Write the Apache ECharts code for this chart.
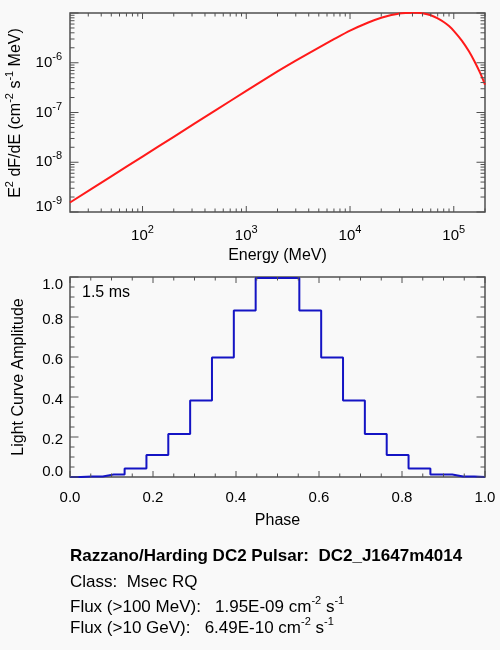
<!DOCTYPE html>
<html><head><meta charset="utf-8">
<script src="https://cdn.jsdelivr.net/npm/echarts@6/dist/echarts.min.js"></script>
<style>html,body{margin:0;padding:0;background:#f9f9f9}#c{width:500px;height:650px}</style>
</head><body><div id="c"></div>
<script>
// ---- Spectrum (top panel) ----
const energies = [20,50,100,200,500,1000,2000,3000,5000,7000,1e4,1.5e4,2e4,2.5e4,3e4,3.5e4,4e4,4.5e4,5e4,6e4,7e4,8e4,9e4,1e5,1.2e5,1.4e5,1.6e5,1.8e5,2e5];
const e2dnde = [1.552e-9,5.21e-9,1.300e-8,3.25e-8,1.091e-7,2.716e-7,6.68e-7,1.104e-6,2.023e-6,2.979e-6,4.426e-6,6.457e-6,8.04e-6,9.12e-6,9.82e-6,1.005e-5,1.016e-5,1.007e-5,9.86e-6,8.99e-6,7.76e-6,6.58e-6,5.45e-6,4.365e-6,2.754e-6,1.698e-6,1.023e-6,6.17e-7,3.63e-7];
const energyRange = [20, 2e5];
const fluxRange = [1e-9, 1e-5];
const energyMajorTicks = [100,1000,10000,100000];
const energyMinorTicks = [30,40,50,60,70,80,90,200,300,400,500,600,700,800,900,2000,3000,4000,5000,6000,7000,8000,9000,2e4,3e4,4e4,5e4,6e4,7e4,8e4,9e4,2e5];
const fluxMajorTicks = [1e-9,1e-8,1e-7,1e-6,1e-5];
const fluxMinorTicks = [2e-9,3e-9,4e-9,5e-9,6e-9,7e-9,8e-9,9e-9,2e-8,3e-8,4e-8,5e-8,6e-8,7e-8,8e-8,9e-8,2e-7,3e-7,4e-7,5e-7,6e-7,7e-7,8e-7,9e-7,2e-6,3e-6,4e-6,5e-6,6e-6,7e-6,8e-6,9e-6];
const energyLabelExps = [2,3,4,5];
const fluxLabelExps = [-6,-7,-8,-9];

// ---- Light curve (bottom panel) ----
const phases = [0,0.0526,0.1053,0.1579,0.2105,0.2632,0.3158,0.3684,0.4211,0.4737,0.5263,0.5789,0.6316,0.6842,0.7368,0.7895,0.8421,0.8947,0.9474,1.0];
const amplitudes = [0.0,0.003,0.012,0.043,0.11,0.215,0.382,0.598,0.833,0.995,0.995,0.833,0.598,0.382,0.215,0.11,0.043,0.012,0.003,0.0];
const phaseRange = [0, 1];
const ampRange = [0, 1];
const phaseTickLabels = ['0.0','0.2','0.4','0.6','0.8','1.0'];
const ampTickLabels = ['0.0','0.2','0.4','0.6','0.8','1.0'];
const linMajorTicks = [0,0.2,0.4,0.6,0.8,1.0];
const linMinorTicks = [0.05,0.1,0.15,0.25,0.3,0.35,0.45,0.5,0.55,0.65,0.7,0.75,0.85,0.9,0.95];

const FONT = "'Liberation Sans', Arial, Helvetica, sans-serif";
const AX = '#505050';
const chart = echarts.init(document.getElementById('c'), null, {renderer:'canvas'});

const supRich = {
  b: {fontSize: 15, fontFamily: FONT, color: '#000'},
  s: {fontSize: 11, fontFamily: FONT, color: '#000', padding: [0,0,12,0]},
  bl: {fontSize: 15, fontFamily: FONT, color: '#000', padding: [0,0,10,0]},
  sl: {fontSize: 11, fontFamily: FONT, color: '#000', padding: [0,0,22,0]}
};

function logAxis(dim, grid, range, exps, margin) {
  return {
    type: 'log', logBase: 10, gridIndex: grid, min: range[0], max: range[1],
    position: dim === 'x' ? 'bottom' : 'left',
    axisLine: {show: false, onZero: false}, axisTick: {show: false},
    splitLine: {show: false}, minorTick: {show: false},
    axisLabel: {
      show: true, margin: margin, rich: supRich,
      formatter: function (v) {
        const l = Math.log10(v), e = Math.round(l);
        if (Math.abs(l - e) > 1e-6 || exps.indexOf(e) < 0) return '';
        if (dim === 'y' && e === -9) return '{bl|10}{sl|' + e + '}';
        return '{b|10}{s|' + e + '}';
      }
    }
  };
}
function linAxis(dim, grid, range, labels, margin) {
  const isY = dim === 'y';
  return {
    type: 'value', gridIndex: grid, min: range[0], max: range[1], interval: 0.2,
    position: isY ? 'left' : 'bottom',
    axisLine: {show: false, onZero: false}, axisTick: {show: false},
    splitLine: {show: false}, minorTick: {show: false},
    axisLabel: {
      show: true, margin: margin, fontSize: 15, fontFamily: FONT, color: '#000',
      rich: {
        n: {fontSize: 15, fontFamily: FONT, color: '#000', padding: [6,0,0,0]},
        t: {fontSize: 15, fontFamily: FONT, color: '#000', padding: [16,0,0,0]},
        z: {fontSize: 15, fontFamily: FONT, color: '#000', padding: [0,0,10,0]}
      },
      formatter: function (v) {
        const i = Math.round(v / 0.2);
        const s = labels[i];
        if (!isY) return s;
        if (i === 0) return '{z|' + s + '}';
        if (i === labels.length - 1) return '{t|' + s + '}';
        return '{n|' + s + '}';
      }
    }
  };
}

// tick marks on all four sides, placed through the axes' own scales
function tickData(xMaj, xMin, yMaj, yMin, xr, yr, L) {
  const d = [];
  xMaj.forEach(v => { d.push([v, yr[0], 0, L.xMaj]); d.push([v, yr[1], 1, L.xMaj]); });
  xMin.forEach(v => { d.push([v, yr[0], 0, L.xMin]); d.push([v, yr[1], 1, L.xMin]); });
  yMaj.forEach(v => { d.push([xr[0], v, 2, L.yMaj]); d.push([xr[1], v, 3, L.yMaj]); });
  yMin.forEach(v => { d.push([xr[0], v, 2, L.yMin]); d.push([xr[1], v, 3, L.yMin]); });
  return d;
}
function tickSeries(xi, yi, data) {
  return {
    type: 'custom', xAxisIndex: xi, yAxisIndex: yi, silent: true, clip: false, z: 5,
    dimensions: ['x', 'y', 'k', 'len'], encode: {x: 0, y: 1},
    data: data,
    renderItem: function (params, api) {
      const p = api.coord([api.value(0), api.value(1)]);
      const k = api.value(2), L = api.value(3);
      let x2 = p[0], y2 = p[1];
      if (k === 0) y2 -= L; else if (k === 1) y2 += L; else if (k === 2) x2 += L; else x2 -= L;
      return {type: 'line', shape: {x1: p[0], y1: p[1], x2: x2, y2: y2}, style: {stroke: AX, lineWidth: 1}};
    }
  };
}

const txt = (x, y, text, opts) => ({
  type: 'text', x: x, y: y,
  style: Object.assign({text: text, fill: '#000', font: '16px ' + FONT, align: 'center', verticalAlign: 'middle'}, opts || {})
});

const richT = {
  n: {fontSize: 16, fontFamily: FONT, color: '#000'},
  s: {fontSize: 11, fontFamily: FONT, color: '#000', padding: [0,0,12,0]},
  m: {fontSize: 17, fontFamily: FONT, color: '#000'},
  ms: {fontSize: 11, fontFamily: FONT, color: '#000', padding: [0,0,12,0]}
};

const gridStyle = {show: true, borderColor: AX, borderWidth: 1.5, backgroundColor: 'transparent'};

const option = {
  backgroundColor: '#f9f9f9',
  animation: false,
  grid: [
    Object.assign({left: 70, top: 13, width: 415, height: 199}, gridStyle),
    Object.assign({left: 70, top: 277, width: 415, height: 200}, gridStyle)
  ],
  xAxis: [
    logAxis('x', 0, energyRange, energyLabelExps, 12),
    linAxis('x', 1, phaseRange, phaseTickLabels, 13)
  ],
  yAxis: [
    logAxis('y', 0, fluxRange, fluxLabelExps, 8),
    linAxis('y', 1, ampRange, ampTickLabels, 7)
  ],
  series: [
    {
      type: 'line', xAxisIndex: 0, yAxisIndex: 0, clip: true,
      data: energies.map((e, i) => [e, e2dnde[i]]),
      smooth: 0.25, showSymbol: false, symbol: 'none',
      lineStyle: {color: '#ff1a1a', width: 2}
    },
    {
      type: 'line', xAxisIndex: 1, yAxisIndex: 1, clip: true,
      data: phases.map((p, i) => [p, amplitudes[i]]),
      step: 'middle', showSymbol: false, symbol: 'none',
      lineStyle: {color: '#1414c4', width: 2}
    },
    tickSeries(0, 0, tickData(energyMajorTicks, energyMinorTicks, fluxMajorTicks, fluxMinorTicks, energyRange, fluxRange,
      {xMaj: 6, xMin: 3.5, yMaj: 8.5, yMin: 4.5})),
    tickSeries(1, 1, tickData(linMajorTicks, linMinorTicks, linMajorTicks, linMinorTicks, phaseRange, ampRange,
      {xMaj: 6, xMin: 3.5, yMaj: 8.5, yMin: 4.5}))
  ],
  graphic: [
    {type: 'text', x: 16, y: 113, rotation: Math.PI / 2,
      style: {text: '{n|E}{s|2}{n| dF/dE (cm}{s|-2}{n| s}{s|-1}{n| MeV)}', rich: richT, align: 'center', verticalAlign: 'middle', fill: '#000'}},
    txt(277.5, 256, 'Energy (MeV)'),
    {type: 'text', x: 19, y: 377, rotation: Math.PI / 2,
      style: {text: 'Light Curve Amplitude', font: '16px ' + FONT, align: 'center', verticalAlign: 'middle', fill: '#000'}},
    txt(277.5, 521, 'Phase'),
    txt(82, 293, '1.5 ms', {align: 'left'}),
    txt(70, 556, 'Razzano/Harding DC2 Pulsar:  DC2_J1647m4014', {align: 'left', font: 'bold 17px ' + FONT}),
    txt(70, 582, 'Class:  Msec RQ', {align: 'left', font: '17px ' + FONT}),
    {type: 'text', x: 70, y: 607,
      style: {text: '{m|Flux (>100 MeV):   1.95E-09 cm}{ms|-2}{m| s}{ms|-1}', rich: richT, align: 'left', verticalAlign: 'middle', fill: '#000'}},
    {type: 'text', x: 70, y: 628,
      style: {text: '{m|Flux (>10 GeV):   6.49E-10 cm}{ms|-2}{m| s}{ms|-1}', rich: richT, align: 'left', verticalAlign: 'middle', fill: '#000'}}
  ]
};
chart.setOption(option);
</script>
</body></html>
